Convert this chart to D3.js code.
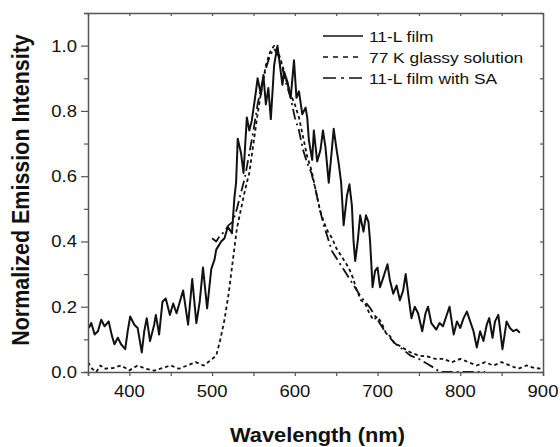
<!DOCTYPE html>
<html>
<head>
<meta charset="utf-8">
<script src="https://cdnjs.cloudflare.com/ajax/libs/d3/7.8.5/d3.min.js"></script>
<style>
  body { margin: 0; background: #fff; }
  svg text { font-family: "Liberation Sans", Arial, sans-serif; fill: #111; }
</style>
</head>
<body>
<svg width="560" height="447"></svg>
<script>
// 11-L film (solid)
var filmNm = [351,354,358,362,366,370,375,379,382,386,390,395,398,401,406,410,415,418,421,425,430,432,436,440,444,449,453,457,461,465,471,476,481,485,489,494,499,503,505,511,515,519,524,527,529,531,535,538,542,545,548,553,555,559,562,565,568,571,575,579,582,585,587,591,595,599,602,605,609,613,615,617,621,623,627,631,634,637,641,644,647,650,653,656,659,663,666,669,671,673,676,679,683,686,689,691,694,697,700,703,707,712,715,719,723,727,731,734,738,741,745,749,754,758,761,765,771,775,779,783,787,792,796,800,804,808,812,816,820,824,828,832,835,839,842,846,851,856,860,864,868,872];
var filmVal = [0.135,0.15,0.115,0.125,0.16,0.14,0.155,0.11,0.085,0.105,0.085,0.07,0.125,0.17,0.145,0.135,0.06,0.125,0.165,0.095,0.145,0.175,0.115,0.215,0.225,0.175,0.21,0.18,0.215,0.25,0.145,0.285,0.15,0.215,0.32,0.195,0.315,0.345,0.375,0.40,0.41,0.445,0.425,0.535,0.58,0.715,0.67,0.61,0.78,0.74,0.77,0.86,0.90,0.85,0.91,0.82,0.87,0.775,0.94,1.0,0.94,0.88,0.92,0.89,0.84,0.955,0.84,0.86,0.79,0.81,0.78,0.71,0.65,0.74,0.645,0.68,0.74,0.69,0.58,0.66,0.745,0.69,0.64,0.58,0.45,0.54,0.575,0.51,0.40,0.34,0.40,0.48,0.43,0.48,0.46,0.40,0.26,0.31,0.32,0.26,0.29,0.33,0.28,0.24,0.265,0.22,0.25,0.30,0.22,0.165,0.20,0.18,0.125,0.18,0.20,0.15,0.13,0.15,0.14,0.17,0.20,0.115,0.155,0.135,0.165,0.185,0.155,0.125,0.075,0.125,0.095,0.145,0.165,0.105,0.155,0.175,0.07,0.155,0.135,0.125,0.13,0.12];

// 77 K glassy solution (dashed)
var glassNm = [350,355,360,365,370,380,390,400,410,420,430,440,450,460,470,480,490,495,500,505,510,515,520,525,530,535,540,545,550,555,560,565,570,575,580,585,590,595,600,605,610,615,620,625,630,635,640,645,650,655,660,665,670,675,680,685,690,695,700,705,710,715,720,730,740,750,760,770,780,790,800,810,820,830,840,850,860,870,880,890,900];
var glassVal = [0.03,0.01,0.0,0.02,0.01,0.012,0.02,0.005,0.02,0.01,0.004,0.012,0.02,0.01,0.02,0.03,0.02,0.03,0.04,0.05,0.10,0.16,0.24,0.34,0.44,0.50,0.56,0.61,0.70,0.79,0.87,0.94,0.98,1.0,0.98,0.94,0.89,0.85,0.82,0.78,0.72,0.66,0.62,0.56,0.50,0.46,0.43,0.41,0.38,0.36,0.34,0.32,0.29,0.25,0.22,0.21,0.18,0.16,0.17,0.15,0.12,0.11,0.09,0.075,0.06,0.05,0.048,0.04,0.04,0.03,0.04,0.03,0.02,0.03,0.02,0.03,0.02,0.01,0.02,0.012,0.01];

// 11-L film with SA (dash-dot)
var saNm = [500,505,510,515,520,525,530,535,540,545,550,555,560,565,570,575,580,585,590,595,600,605,610,615,620,625,630,635,640,645,650,655,660,665,670,680,690,700,710,720,730,740,750,760,770,775,780,790,800,810,820,830];
var saVal = [0.41,0.40,0.42,0.43,0.45,0.46,0.50,0.55,0.60,0.67,0.74,0.82,0.88,0.93,0.97,0.99,0.97,0.93,0.88,0.84,0.78,0.74,0.68,0.64,0.61,0.56,0.50,0.45,0.41,0.37,0.35,0.33,0.31,0.29,0.27,0.23,0.20,0.16,0.12,0.09,0.07,0.05,0.04,0.025,0.01,0.0,0.0,0.0,0.0,0.0,0.0,0.0];

var xTicks = [400, 500, 600, 700, 800, 900];
var yTicks = [0.0, 0.2, 0.4, 0.6, 0.8, 1.0];
var legendLabels = ["11-L film", "77 K glassy solution", "11-L film with SA"];
var dashes = [null, "3.5,3", "11,4,2,4"];

var margin = {left: 88, top: 13, right: 17, bottom: 75};
var W = 560, H = 447;
var svg = d3.select("svg");
var x = d3.scaleLinear().domain([350, 900]).range([margin.left, W - margin.right]);
var y = d3.scaleLinear().domain([0, 1.1]).range([H - margin.bottom, margin.top]);
var stretch = 1.12;
var axisColor = "#555";

svg.append("clipPath").attr("id", "plot")
  .append("rect")
  .attr("x", x(350)).attr("y", y(1.1))
  .attr("width", x(900) - x(350)).attr("height", y(0) - y(1.1) + 1.5);

function pairs(a, b) {
  return a.map(function(d, i) { return [d, b[i]]; });
}
var series = [pairs(filmNm, filmVal), pairs(glassNm, glassVal), pairs(saNm, saVal)];

var line = d3.line().x(function(d) { return x(d[0]); }).y(function(d) { return y(d[1]); });

var g = svg.append("g").attr("clip-path", "url(#plot)");
series.forEach(function(s, i) {
  g.append("path")
    .attr("d", line(s))
    .attr("fill", "none")
    .attr("stroke", "#111")
    .attr("stroke-width", i == 0 ? 2 : 1.8)
    .attr("stroke-linejoin", "round")
    .attr("stroke-dasharray", dashes[i]);
});

// axes (bottom / left outward, top / right inward)
var xMinor = d3.range(350, 901, 50);
var yMinor = d3.range(0, 1.101, 0.1);

var bottom = svg.append("g").attr("transform", "translate(0," + y(0) + ")")
  .call(d3.axisBottom(x).tickValues(xMinor).tickSize(4).tickFormat(""));
var left = svg.append("g").attr("transform", "translate(" + x(350) + ",0)")
  .call(d3.axisLeft(y).tickValues(yMinor).tickSize(4).tickFormat(""));
svg.append("g").attr("transform", "translate(0," + y(1.1) + ")")
  .call(d3.axisBottom(x).tickValues(xMinor).tickSize(3).tickFormat("").tickSizeOuter(0));
svg.append("g").attr("transform", "translate(" + x(900) + ",0)")
  .call(d3.axisLeft(y).tickValues(yMinor).tickSize(3).tickFormat("").tickSizeOuter(0));

left.selectAll(".tick line").attr("x2", function(d) {
  return Math.abs(d * 10 - Math.round(d * 5) * 2) < 0.01 ? -7 : -4;
});

svg.selectAll(".domain").attr("stroke", axisColor).attr("stroke-width", 1.5);
svg.selectAll(".tick line").attr("stroke", axisColor).attr("stroke-width", 1.2);

// tick labels
svg.selectAll(".xlab").data(xTicks).enter().append("text")
  .attr("transform", function(d) { return "translate(" + x(d) + "," + (y(0) + 25) + ") scale(" + stretch + ",1)"; })
  .attr("text-anchor", "middle")
  .style("font-size", "16.5px")
  .text(function(d) { return d; });

svg.selectAll(".ylab").data(yTicks).enter().append("text")
  .attr("transform", function(d) { return "translate(" + (x(350) - 11) + "," + (y(d) + 6) + ") scale(" + stretch + ",1)"; })
  .attr("text-anchor", "end")
  .style("font-size", "16.5px")
  .text(function(d) { return d3.format(".1f")(d); });

// axis titles
svg.append("text")
  .attr("transform", "translate(" + ((x(350) + x(900)) / 2 + 2) + ",442) scale(" + stretch + ",1)")
  .attr("text-anchor", "middle")
  .style("font-size", "19.5px")
  .style("font-weight", "bold")
  .text("Wavelength  (nm)");

svg.append("text")
  .attr("transform", "translate(29,190) rotate(-90) scale(1," + stretch + ")")
  .attr("text-anchor", "middle")
  .style("font-size", "21.5px")
  .style("font-weight", "bold")
  .text("Normalized Emission Intensity");

// legend
var legendY = [36, 57, 78];
legendLabels.forEach(function(t, i) {
  svg.append("line")
    .attr("x1", 323).attr("x2", 363)
    .attr("y1", legendY[i]).attr("y2", legendY[i])
    .attr("stroke", "#111").attr("stroke-width", 1.6)
    .attr("stroke-dasharray", i == 1 ? "5,5" : (i == 2 ? "13,5,3,5" : null));
  svg.append("text")
    .attr("transform", "translate(369," + (legendY[i] + 5.5) + ") scale(" + stretch + ",1)")
    .style("font-size", "15.5px")
    .text(t);
});
</script>
</body>
</html>
